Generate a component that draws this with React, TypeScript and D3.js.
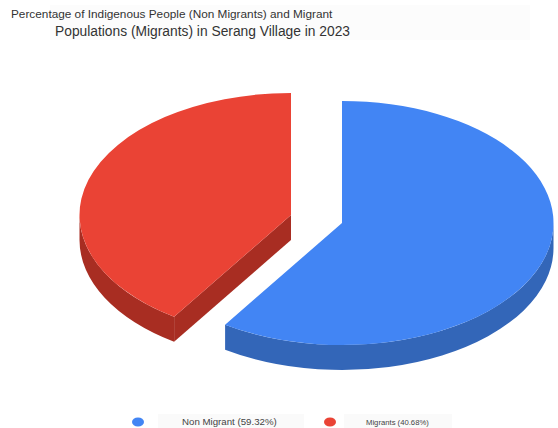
import React from "react";
import * as d3 from "d3";

const categories = ["Non Migrant", "Migrants"];
const shares = [59.32, 40.68];
const topColors = ["#4285f4", "#ea4335"];
const wallColors = ["#3366b8", "#a82d22"];
const titleLines = [
  "Percentage of Indigenous People (Non Migrants) and Migrant",
  "Populations (Migrants) in Serang Village in 2023",
];

const WIDTH = 558;
const HEIGHT = 428;
const RX = 211.5;
const RY = 122;
const DEPTH = 25;
const TAU = Math.PI * 2;
const FONT = "'Liberation Sans', Arial, sans-serif";

// Each slice is pulled away from the shared centre along its own direction.
const apexes = [
  { x: 342, y: 223 },
  { x: 291, y: 215 },
];

const pie = d3.pie<number>().sort(null).startAngle(0).endAngle(TAU);
const arcs = pie(shares);

const rimX = d3.scaleLinear().domain([-1, 1]).range([-RX, RX]);
const rimY = d3.scaleLinear().domain([-1, 1]).range([-RY, RY]);

const rim = (angle: number, cx: number, cy: number) => ({
  x: cx + rimX(Math.sin(angle)),
  y: cy + rimY(-Math.cos(angle)),
});

// Flat elliptical sector for the upper face of a slice.
function facePath(a0: number, a1: number, cx: number, cy: number) {
  const s = rim(a0, cx, cy);
  const e = rim(a1, cx, cy);
  const large = a1 - a0 > Math.PI ? 1 : 0;
  return `M${cx},${cy}L${s.x},${s.y}A${RX},${RY} 0 ${large} 1 ${e.x},${e.y}Z`;
}

// Curved outer wall between two angles on the rim.
function wallPath(a0: number, a1: number, cx: number, cy: number) {
  const s = rim(a0, cx, cy);
  const e = rim(a1, cx, cy);
  return (
    `M${s.x},${s.y}A${RX},${RY} 0 0 1 ${e.x},${e.y}` +
    `L${e.x},${e.y + DEPTH}A${RX},${RY} 0 0 0 ${s.x},${s.y + DEPTH}Z`
  );
}

// Flat wall along a radial cut, from the apex out to the rim.
function cutPath(angle: number, cx: number, cy: number) {
  const p = rim(angle, cx, cy);
  return `M${cx},${cy}L${p.x},${p.y}L${p.x},${p.y + DEPTH}L${cx},${cy + DEPTH}Z`;
}

const legendItems = [
  { dot: 138, box: 158, boxW: 146, text: 182, size: 9.7 },
  { dot: 330, box: 344, boxW: 108, text: 366, size: 7.7 },
];

export default function App() {
  const [blue, red] = arcs;
  const b = apexes[0];
  const r = apexes[1];
  return (
    <svg
      width={WIDTH}
      height={HEIGHT}
      viewBox={`0 0 ${WIDTH} ${HEIGHT}`}
      style={{ position: "absolute", left: 0, top: 0, background: "#fff" }}
    >
      <rect x={50} y={5} width={480} height={35} fill="#fcfcfc" />
      <text x={11} y={18} fontFamily={FONT} fontSize={11.8} fill="#333">
        {titleLines[0]}
      </text>
      <text x={55} y={35.5} fontFamily={FONT} fontSize={13.8} fill="#333">
        {titleLines[1]}
      </text>

      {/* Blue slice: only the rim from the right extreme round to its end shows a wall */}
      <path d={wallPath(Math.PI / 2, blue.endAngle, b.x, b.y)} fill={wallColors[0]} />
      <path d={facePath(blue.startAngle, blue.endAngle, b.x, b.y)} fill={topColors[0]} />

      {/* Red slice: the radial cut and the rim up to the left extreme are visible */}
      <path d={cutPath(red.startAngle, r.x, r.y)} fill={wallColors[1]} />
      <path d={wallPath(red.startAngle, (3 * Math.PI) / 2, r.x, r.y)} fill={wallColors[1]} />
      <path d={facePath(red.startAngle, red.endAngle, r.x, r.y)} fill={topColors[1]} />

      {legendItems.map((item, i) => (
        <g key={categories[i]}>
          <rect x={item.box} y={414} width={item.boxW} height={14} fill="#fafafa" />
          <ellipse cx={item.dot} cy={422} rx={6} ry={4.5} fill={topColors[i]} />
          <text x={item.text} y={425} fontFamily={FONT} fontSize={item.size} fill="#444">
            {`${categories[i]} (${d3.format(".2f")(shares[i])}%)`}
          </text>
        </g>
      ))}
    </svg>
  );
}
